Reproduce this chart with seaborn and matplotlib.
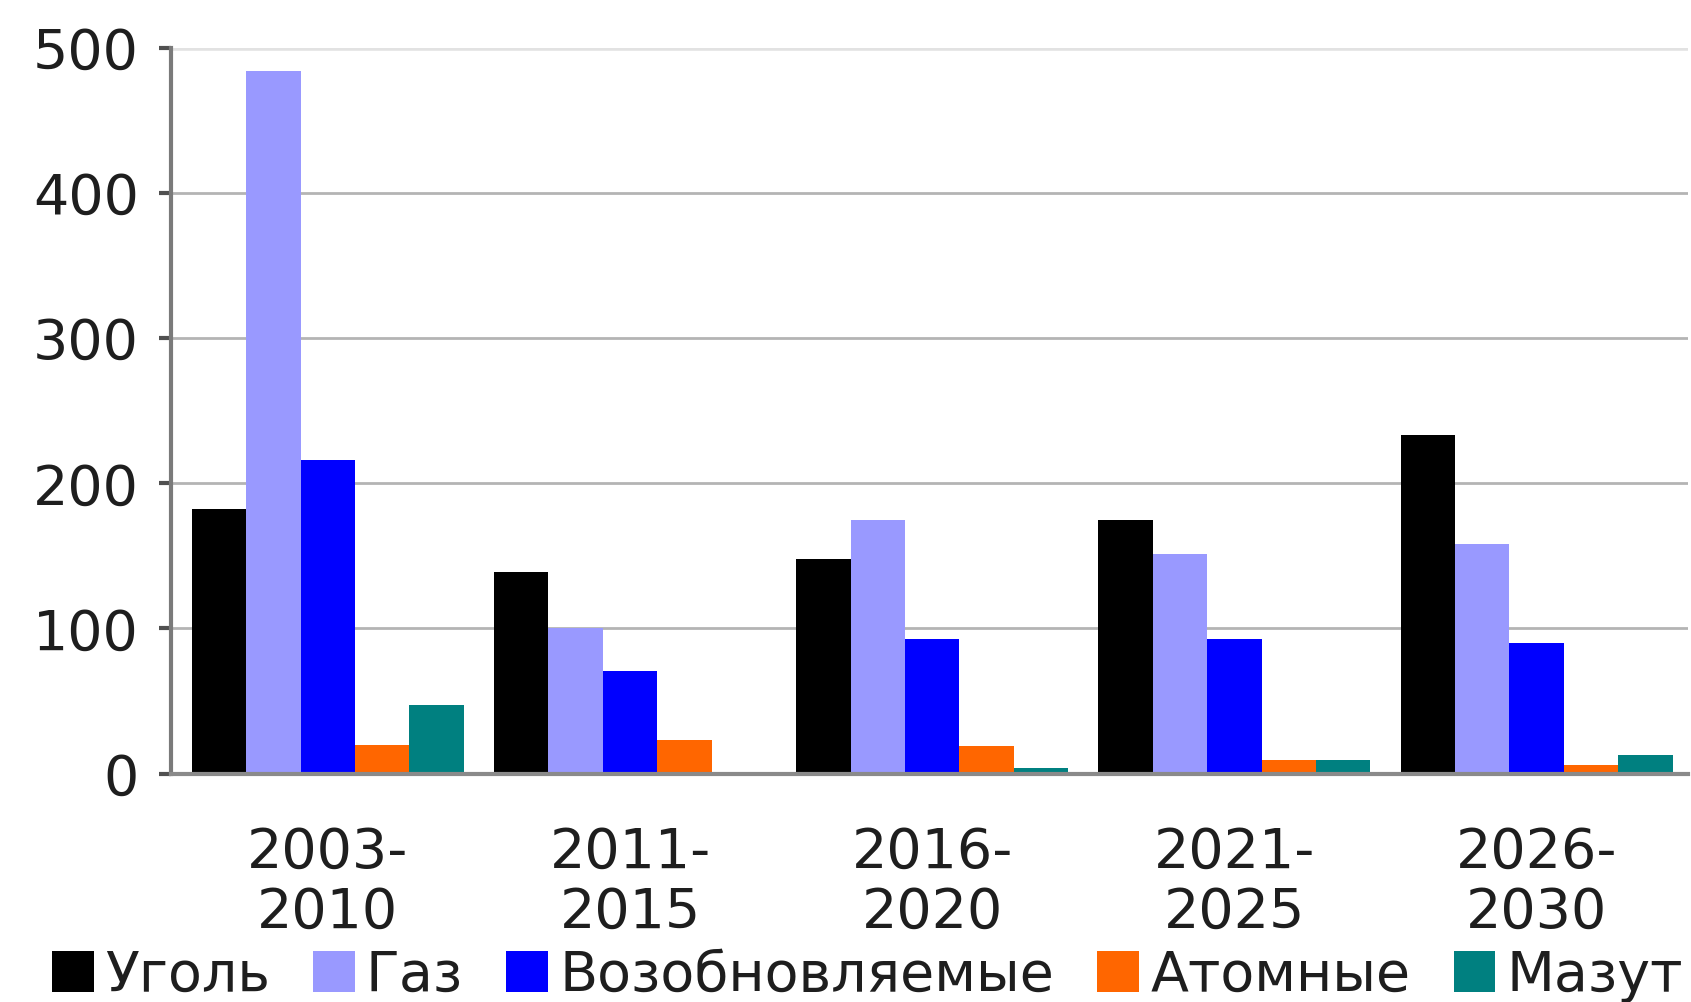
import pandas as pd
import numpy as np
import matplotlib
matplotlib.use('Agg')
import matplotlib.pyplot as plt
import seaborn as sns

# данные с картинки
periods = ['2003-\n2010', '2011-\n2015', '2016-\n2020', '2021-\n2025', '2026-\n2030']
sources = ['Уголь', 'Газ', 'Возобновляемые', 'Атомные', 'Мазут']
coal = [182, 139, 148, 175, 233]
gas = [484, 100, 175, 151, 158]
renewable = [216, 71, 93, 93, 90]
nuclear = [20, 23, 19, 9, 6]
mazut = [47, 0, 4, 9, 13]
colors = ['#000000', '#9999FF', '#0000FF', '#FF6600', '#008080']

df = pd.DataFrame({'period': periods * 5,
                   'source': np.repeat(sources, len(periods)),
                   'value': coal + gas + renewable + nuclear + mazut})

sns.set_style('white')
plt.rcParams['font.family'] = ['DejaVu Sans']

fig = plt.figure(figsize=(16.91, 10.02), dpi=100)
ax = fig.add_axes([0.101, 0.228, 0.897, 0.724])

sns.barplot(data=df, x='period', y='value', hue='source', hue_order=sources,
            palette=colors, width=0.9, saturation=1, linewidth=0, ax=ax, legend=True)

ax.set_ylim(0, 500)
ax.set_xlim(-0.52, 4.5)
ax.set_yticks([0, 100, 200, 300, 400, 500])
ax.yaxis.grid(True, color='#b4b4b4', linewidth=2)
ax.yaxis.get_gridlines()[-1].set_color('#e2e2e2')
ax.yaxis.get_gridlines()[-1].set_linewidth(4)
ax.set_axisbelow(True)
ax.set_xlabel('')
ax.set_ylabel('')

for s in ['top', 'right']:
    ax.spines[s].set_visible(False)
ax.spines['left'].set_color('#7a7a7a')
ax.spines['left'].set_linewidth(3)
ax.spines['bottom'].set_color('#8a8a8a')
ax.spines['bottom'].set_linewidth(3)

ax.tick_params(axis='y', left=True, length=9, width=3, color='#505050',
               labelsize=40, pad=14, labelcolor='#1e1e1e')
ax.tick_params(axis='x', bottom=False, labelsize=40, pad=34, labelcolor='#1e1e1e')
for lbl in ax.get_xticklabels():
    lbl.set_linespacing(1.15)

ax.legend(loc='center', bbox_to_anchor=(0.513, 0.026), bbox_transform=fig.transFigure,
          ncol=5, frameon=False, fontsize=40, handlelength=0.75, handleheight=0.75,
          handletextpad=0.2, columnspacing=0.78, borderpad=0, borderaxespad=0,
          labelcolor='#1e1e1e')

fig.savefig('out.png', dpi=100)
